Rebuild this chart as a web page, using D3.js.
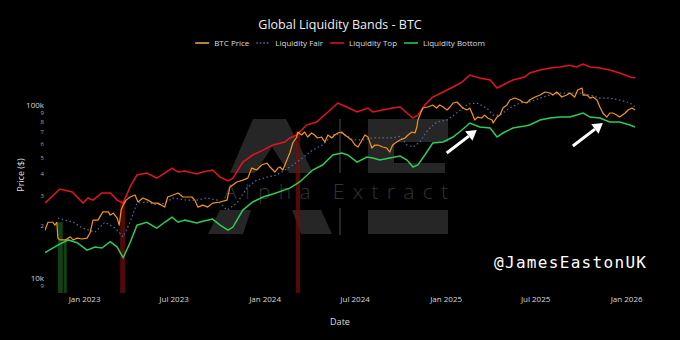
<!DOCTYPE html>
<meta charset="utf-8">
<style>
body { margin:0; background:#000; }
svg { display:block; font-family:"Open Sans", sans-serif; }
</style>
<svg width="680" height="340"></svg>
<script src="https://d3js.org/d3.v7.min.js"></script>
<script>

// values in $k
var btcPrice = [
  ["2022-10-14",18.9],["2022-10-20",21.0],["2022-10-30",21.0],["2022-11-03",20.2],["2022-11-07",21.0],["2022-11-09",17.0],
  ["2022-11-13",16.6],["2022-11-24",16.6],["2022-12-04",17.3],["2022-12-10",16.6],["2022-12-18",17.0],["2022-12-28",16.8],
  ["2023-01-07",17.0],["2023-01-13",18.2],["2023-01-19",21.6],["2023-01-29",21.6],["2023-02-08",24.1],["2023-02-19",24.1],
  ["2023-02-23",23.1],["2023-03-01",23.7],["2023-03-09",22.2],["2023-03-13",20.2],["2023-03-17",24.7],["2023-03-21",26.4],
  ["2023-03-27",28.2],["2023-04-04",29.4],["2023-04-14",30.2],["2023-04-20",27.5],["2023-04-30",29.0],["2023-05-10",28.2],
  ["2023-05-20",27.1],["2023-05-30",27.1],["2023-06-13",25.7],["2023-06-19",29.4],["2023-06-30",30.2],["2023-07-10",31.0],
  ["2023-07-20",29.4],["2023-08-07",29.4],["2023-08-13",28.2],["2023-08-19",25.7],["2023-08-29",26.4],["2023-09-08",25.7],
  ["2023-09-18",27.1],["2023-10-03",27.5],["2023-10-17",28.2],["2023-10-23",33.6],["2023-11-06",35.9],["2023-11-18",36.8],
  ["2023-11-28",37.8],["2023-12-06",43.2],["2023-12-16",42.1],["2023-12-26",45.0],["2024-01-06",46.2],["2024-01-12",43.8],
  ["2024-01-22",41.0],["2024-01-28",43.2],["2024-02-01",43.8],["2024-02-07",42.1],["2024-02-15",48.1],["2024-02-21",52.8],
  ["2024-02-27",60.3],["2024-03-06",65.3],["2024-03-08",69.8],["2024-03-16",67.1],["2024-03-22",69.8],["2024-03-28",65.3],
  ["2024-04-05",68.9],["2024-04-11",67.1],["2024-04-17",64.5],["2024-04-25",65.3],["2024-05-02",61.1],["2024-05-08",67.1],
  ["2024-05-16",64.5],["2024-05-22",67.1],["2024-05-28",68.9],["2024-06-05",69.8],["2024-06-11",67.1],["2024-06-17",65.3],
  ["2024-06-25",62.8],["2024-07-02",58.7],["2024-07-08",57.2],["2024-07-16",62.8],["2024-07-22",67.1],["2024-07-28",65.3],
  ["2024-08-05",56.4],["2024-08-11",58.7],["2024-08-17",58.7],["2024-08-27",57.2],["2024-09-04",56.4],["2024-09-10",53.5],
  ["2024-09-16",58.7],["2024-09-24",61.1],["2024-10-01",62.8],["2024-10-11",64.5],["2024-10-17",67.1],["2024-10-25",69.8],
  ["2024-10-31",68.9],["2024-11-04",74.6],["2024-11-06",81.9],["2024-11-10",87.5],["2024-11-16",96.1],["2024-11-26",97.4],
  ["2024-12-06",100],["2024-12-14",96.1],["2024-12-20",100],["2024-12-27",97.4],["2025-01-04",93.6],["2025-01-10",97.4],
  ["2025-01-16",102.7],["2025-01-24",104.1],["2025-01-30",100],["2025-02-05",96.1],["2025-02-13",93.6],["2025-02-19",96.1],
  ["2025-02-25",87.5],["2025-03-01",81.9],["2025-03-07",85.2],["2025-03-15",84.1],["2025-03-21",87.5],["2025-03-27",84.1],
  ["2025-04-05",81.9],["2025-04-07",78.7],["2025-04-15",85.2],["2025-04-21",87.5],["2025-04-27",96.1],["2025-05-05",100],
  ["2025-05-11",106.9],["2025-05-21",109.7],["2025-05-31",106.9],["2025-06-06",104.1],["2025-06-14",102.7],["2025-06-20",106.9],
  ["2025-07-01",111.2],["2025-07-11",114.2],["2025-07-21",118.9],["2025-07-31",117.3],["2025-08-06",114.2],["2025-08-14",118.9],
  ["2025-08-24",111.2],["2025-09-03",114.2],["2025-09-09",117.3],["2025-09-19",111.2],["2025-09-25",122.1],["2025-10-04",125.4],
  ["2025-10-06",114.2],["2025-10-14",114.2],["2025-10-20",109.7],["2025-10-26",111.2],["2025-11-03",106.9],["2025-11-09",97.4],
  ["2025-11-15",89.9],["2025-11-23",85.2],["2025-11-29",89.9],["2025-12-05",89.9],["2025-12-13",87.5],["2025-12-19",85.2],
  ["2025-12-30",89.9],["2026-01-05",93.6],["2026-01-13",96.1],["2026-01-19",93.6]
];

var liqFair = [
  ["2022-11-09",22.2],["2022-12-10",21.0],["2022-12-30",19.4],["2023-01-23",18.4],["2023-02-12",21.0],["2023-03-05",19.4],
  ["2023-03-21",17.3],["2023-04-04",21.0],["2023-04-18",27.1],["2023-05-08",27.5],["2023-05-28",26.4],["2023-06-13",27.1],
  ["2023-06-30",29.0],["2023-07-28",28.2],["2023-08-17",28.2],["2023-09-06",29.0],["2023-09-27",28.2],["2023-10-17",24.7],
  ["2023-11-06",27.1],["2023-11-26",33.1],["2023-12-16",36.8],["2024-01-06",38.3],["2024-01-26",39.4],["2024-02-11",42.1],
  ["2024-02-21",43.8],["2024-03-12",48.1],["2024-04-07",54.9],["2024-04-27",58.7],["2024-05-18",67.1],["2024-06-07",68.9],
  ["2024-06-28",62.8],["2024-07-18",62.8],["2024-08-07",64.5],["2024-08-27",64.5],["2024-09-16",64.5],["2024-10-01",66.0],
  ["2024-10-15",58.7],["2024-10-27",57.2],["2024-11-10",61.1],["2024-11-26",71.7],["2024-12-14",79.7],["2025-01-04",81.9],
  ["2025-01-26",91.1],["2025-02-15",101.3],["2025-03-05",102.7],["2025-03-25",96.1],["2025-04-07",87.5],["2025-04-21",87.5],
  ["2025-05-11",96.1],["2025-05-31",102.7],["2025-06-20",104.1],["2025-07-11",109.7],["2025-07-31",114.2],["2025-08-20",117.3],
  ["2025-09-09",117.3],["2025-09-30",117.3],["2025-10-20",114.2],["2025-11-09",109.7],["2025-11-29",109.7],["2025-12-19",106.9],
  ["2026-01-09",102.7],["2026-01-19",97.4]
];

var liqTop = [
  ["2022-10-14",27.1],["2022-11-13",32.7],["2022-12-08",31.4],["2022-12-30",27.1],["2023-01-09",29.0],["2023-01-19",28.2],
  ["2023-02-06",31.0],["2023-02-23",31.0],["2023-03-09",28.2],["2023-03-21",27.1],["2023-04-04",33.6],["2023-04-18",39.4],
  ["2023-05-08",40.4],["2023-05-28",37.8],["2023-06-13",40.4],["2023-06-28",43.2],["2023-07-10",41.0],["2023-07-24",41.5],
  ["2023-08-17",39.9],["2023-08-29",41.0],["2023-09-18",42.1],["2023-10-03",38.3],["2023-10-19",36.4],["2023-10-29",37.8],
  ["2023-11-18",46.8],["2023-12-08",51.4],["2023-12-29",54.9],["2024-01-18",58.7],["2024-02-11",61.1],["2024-02-21",64.5],
  ["2024-03-06",67.1],["2024-03-26",76.6],["2024-04-15",79.7],["2024-05-06",89.9],["2024-05-28",102.7],["2024-06-15",97.4],
  ["2024-07-06",91.1],["2024-07-28",96.1],["2024-08-07",91.1],["2024-08-27",93.6],["2024-09-16",96.1],["2024-10-01",97.4],
  ["2024-10-15",89.9],["2024-10-27",84.1],["2024-11-06",87.5],["2024-11-20",100],["2024-12-06",111.2],["2024-12-27",118.9],
  ["2025-01-16",127.1],["2025-02-03",135.8],["2025-02-19",149.1],["2025-03-11",143.3],["2025-04-01",139.5],["2025-04-15",125.4],
  ["2025-04-27",130.5],["2025-05-17",139.5],["2025-06-10",145.2],["2025-06-20",153.1],["2025-07-11",159.3],["2025-07-31",163.6],
  ["2025-08-20",165.8],["2025-09-09",170],["2025-09-23",165.8],["2025-10-06",172.3],["2025-10-20",165.8],["2025-11-09",163.6],
  ["2025-11-29",159.3],["2025-12-19",153.1],["2026-01-09",145.2],["2026-01-19",143.3]
];

var liqBottom = [
  ["2022-10-14",14.0],["2022-11-09",15.5],["2022-11-30",16.6],["2022-12-18",16.0],["2023-01-07",14.5],["2023-01-23",15.1],
  ["2023-02-06",14.9],["2023-02-23",16.2],["2023-03-09",15.1],["2023-03-21",13.1],["2023-04-04",16.0],["2023-04-18",20.2],
  ["2023-05-08",21.0],["2023-05-28",19.4],["2023-06-13",21.0],["2023-06-28",22.5],["2023-07-10",21.0],["2023-07-24",21.6],
  ["2023-08-17",20.8],["2023-08-29",21.3],["2023-09-18",21.9],["2023-10-03",20.2],["2023-10-19",18.9],["2023-10-29",19.7],
  ["2023-11-18",24.7],["2023-12-08",27.5],["2023-12-29",29.4],["2024-01-18",30.6],["2024-02-11",32.3],["2024-02-21",33.1],
  ["2024-03-12",35.9],["2024-04-07",42.1],["2024-04-27",45.0],["2024-05-18",51.4],["2024-06-05",52.8],["2024-06-17",51.4],
  ["2024-07-06",46.8],["2024-07-26",50.0],["2024-08-07",49.4],["2024-08-21",48.1],["2024-09-10",49.4],["2024-10-01",50.7],
  ["2024-10-15",48.1],["2024-10-27",43.8],["2024-11-06",45.0],["2024-11-20",51.4],["2024-12-06",60.3],["2024-12-27",61.1],
  ["2025-01-16",65.3],["2025-02-03",71.7],["2025-02-19",78.7],["2025-03-11",74.6],["2025-04-01",73.6],["2025-04-15",65.3],
  ["2025-04-27",68.9],["2025-05-17",73.6],["2025-06-10",75.6],["2025-06-20",76.6],["2025-07-11",81.9],["2025-07-31",84.1],
  ["2025-08-20",85.2],["2025-09-09",85.2],["2025-09-23",87.5],["2025-10-06",89.9],["2025-10-20",85.2],["2025-11-09",84.1],
  ["2025-11-29",79.7],["2025-12-19",79.7],["2026-01-09",76.6],["2026-01-19",74.6]
];

// signal windows (shaded under price)
var buySignals = [["2022-11-09","2022-11-19"],["2022-11-21","2022-11-27"]];
var sellSignals = [["2023-03-15","2023-03-25"],["2024-03-04","2024-03-13"]];

// annotation arrow tips [date, value]
var arrowTips = [["2025-03-05",71.7],["2025-11-15",78.7]];

var yTicks = [9, 10, 20, 30, 40, 50, 60, 70, 80, 90, 100];

var parse = d3.utcParse("%Y-%m-%d");
function rows(a) { return a.map(function(d) { return {date: parse(d[0]), v: d[1]}; }); }
var price = rows(btcPrice), fair = rows(liqFair), topB = rows(liqTop), botB = rows(liqBottom);

var svg = d3.select("svg"),
    left = 45, right = 635, plotTop = 57, plotBottom = 293;

var x = d3.scaleUtc().domain(d3.extent(price, function(d) { return d.date; })).range([left, right]);
var y = d3.scaleLog().domain([8.19, 189.5]).range([plotBottom, plotTop]);

// watermark
var wm = svg.append("g").attr("fill", "#262626");
wm.append("polygon").attr("points", "253,119 286,119 313,173 289,173 272,147 255,173 230,173");
wm.append("polygon").attr("points", "220,210 251,210 243,234 208,234");
wm.append("polygon").attr("points", "292,210 321,210 332,234 301,234");
wm.append("rect").attr("x", 339).attr("y", 119).attr("width", 2).attr("height", 54);
wm.append("rect").attr("x", 339).attr("y", 208).attr("width", 2).attr("height", 27);
wm.append("rect").attr("x", 368).attr("y", 119).attr("width", 80).attr("height", 23);
wm.append("rect").attr("x", 368).attr("y", 142).attr("width", 26).attr("height", 21);
wm.append("rect").attr("x", 368).attr("y", 163).attr("width", 77).attr("height", 10);
wm.append("rect").attr("x", 368).attr("y", 210).attr("width", 80).attr("height", 24);
svg.append("text")
    .attr("x", 224).attr("y", 199)
    .attr("textLength", 224).attr("lengthAdjust", "spacing")
    .style("font-size", "21px").style("font-weight", 300)
    .attr("fill", "#343434")
    .text("Alpha Extract");

svg.append("defs").append("clipPath").attr("id", "clip")
  .append("rect").attr("x", left).attr("y", plotTop)
    .attr("width", right - left).attr("height", plotBottom - plotTop);

var plot = svg.append("g").attr("clip-path", "url(#clip)");

// signal shading
function shade(list, color, op) {
  list.forEach(function(s) {
    var a = parse(s[0]), b = parse(s[1]);
    var near = price.filter(function(d) { return d.date >= d3.utcDay.offset(a, -4) && d.date <= d3.utcDay.offset(b, 4); });
    var hi = d3.max(near, function(d) { return d.v; });
    plot.append("rect")
        .attr("x", x(a)).attr("width", Math.max(1, x(b) - x(a)))
        .attr("y", y(hi)).attr("height", plotBottom - y(hi))
        .attr("fill", color).attr("opacity", op);
  });
}
shade(buySignals, "#1d6b26", 0.6);
shade(sellSignals, "#6e0c0c", 0.75);

var line = d3.line().x(function(d) { return x(d.date); }).y(function(d) { return y(d.v); });

plot.append("path").datum(topB).attr("d", line)
    .attr("fill", "none").attr("stroke", "#e3141e").attr("stroke-width", 1.5);
plot.append("path").datum(botB).attr("d", line)
    .attr("fill", "none").attr("stroke", "#2ecc55").attr("stroke-width", 1.5);
plot.append("path").datum(fair).attr("d", line)
    .attr("fill", "none").attr("stroke", "#4d6fa8").attr("stroke-width", 1.2)
    .attr("stroke-dasharray", "1.5,2.5");
plot.append("path").datum(price).attr("d", line)
    .attr("fill", "none").attr("stroke", "#f7941d").attr("stroke-width", 1.2)
    .attr("stroke-linejoin", "round");

// arrows
arrowTips.forEach(function(a) {
  var tx = x(parse(a[0])), ty = y(a[1]);
  var sx = tx - 30, sy = ty + 23;
  var ang = Math.atan2(ty - sy, tx - sx);
  var hl = 10, hw = 6;
  var bx = tx - hl * Math.cos(ang), by = ty - hl * Math.sin(ang);
  svg.append("line").attr("x1", sx).attr("y1", sy).attr("x2", bx).attr("y2", by)
      .attr("stroke", "#fff").attr("stroke-width", 3);
  svg.append("polygon")
      .attr("points", [[tx, ty], [bx + hw * Math.sin(ang), by - hw * Math.cos(ang)], [bx - hw * Math.sin(ang), by + hw * Math.cos(ang)]].join(" "))
      .attr("fill", "#fff");
});

// axes
var xAxis = svg.append("g")
    .attr("transform", "translate(0," + plotBottom + ")")
    .call(d3.axisBottom(x).ticks(d3.utcMonth.every(6)).tickFormat(d3.utcFormat("%b %Y")).tickSize(0).tickPadding(3));
xAxis.select(".domain").remove();
xAxis.selectAll("text").attr("fill", "#d8d8d8").style("font-size", "8px").style("font-family", "Open Sans");

var yAxis = svg.append("g")
    .attr("transform", "translate(47,0)")
    .call(d3.axisLeft(y).tickValues(yTicks).tickSize(0).tickPadding(3)
      .tickFormat(function(d) { return d === 10 ? "10k" : d === 100 ? "100k" : String(d >= 10 ? d / 10 : d); }));
yAxis.select(".domain").remove();
yAxis.selectAll("text")
    .attr("fill", function(d) { return d === 10 || d === 100 ? "#d8d8d8" : "#aaa"; })
    .style("font-size", function(d) { return d === 10 || d === 100 ? "8px" : "6px"; })
    .style("font-family", "Open Sans");

svg.append("text").attr("transform", "translate(24,175) rotate(-90)")
    .attr("text-anchor", "middle").attr("fill", "#ddd").style("font-size", "9px").text("Price ($)");
svg.append("text").attr("x", 340).attr("y", 325)
    .attr("text-anchor", "middle").attr("fill", "#ddd").style("font-size", "9px").text("Date");

// title
svg.append("text").attr("x", 340).attr("y", 29)
    .attr("text-anchor", "middle").attr("fill", "#eee").style("font-size", "12.5px").text("Global Liquidity Bands - BTC");

// legend
var legendItems = [
  {name: "BTC Price", color: "#f0a868", dash: null},
  {name: "Liquidity Fair", color: "#4d6fa8", dash: "1.5,2"},
  {name: "Liquidity Top", color: "#e3141e", dash: null},
  {name: "Liquidity Bottom", color: "#2ecc55", dash: null}
];
var lg = svg.append("g");
var cx = 0;
legendItems.forEach(function(it) {
  var g = lg.append("g").attr("transform", "translate(" + cx + ",0)");
  g.append("line").attr("x1", 0).attr("x2", 14).attr("y1", 0).attr("y2", 0)
      .attr("stroke", it.color).attr("stroke-width", 1.5).attr("stroke-dasharray", it.dash);
  var t = g.append("text").attr("x", 19).attr("y", 3).attr("fill", "#ddd").style("font-size", "8px").text(it.name);
  cx += 19 + t.node().getComputedTextLength() + 7;
});
lg.attr("transform", "translate(" + (340 - (cx - 7) / 2) + ",43)");

// credit
svg.append("text").attr("x", 646).attr("y", 268)
    .attr("text-anchor", "end").attr("fill", "#fff")
    .style("font-family", "DejaVu Sans Mono").style("font-size", "16px")
    .attr("textLength", 152).attr("lengthAdjust", "spacing")
    .text("@JamesEastonUK");
</script>
